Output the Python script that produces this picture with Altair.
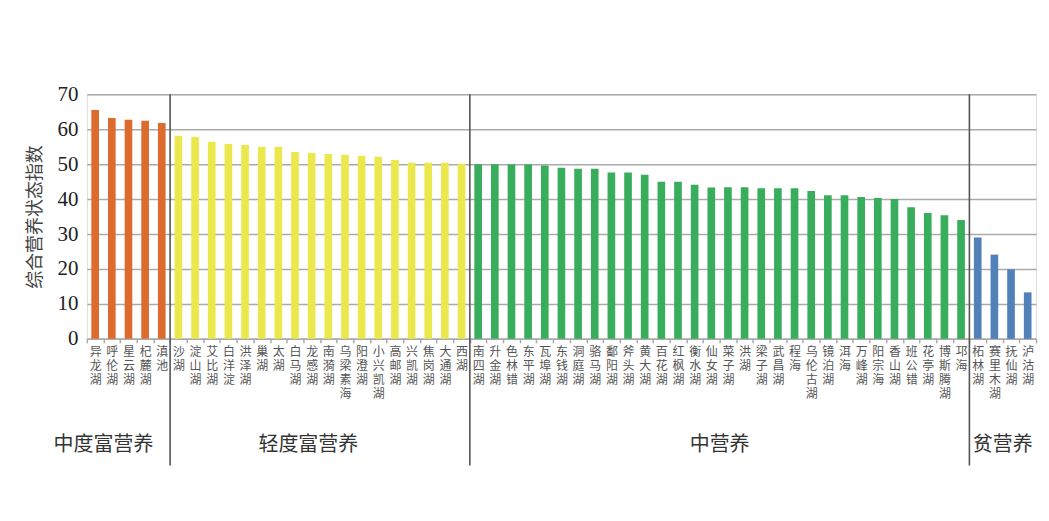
import altair as alt
import pandas as pd

# ---- data ----
level_names = ["中度富营养", "轻度富营养", "中营养", "贫营养"]
level_colors = ["#dd6b2d", "#ebe84e", "#38ad5c", "#5280b9"]

g1_lakes = ["异龙湖", "呼伦湖", "星云湖", "杞麓湖", "滇池"]
g1_values = [65.5, 63.2, 62.7, 62.4, 61.8]

g2_lakes = ["沙湖", "淀山湖", "艾比湖", "白洋淀", "洪泽湖", "巢湖", "太湖", "白马湖", "龙感湖",
            "南漪湖", "乌梁素海", "阳澄湖", "小兴凯湖", "高邮湖", "兴凯湖", "焦岗湖", "大通湖", "西湖"]
g2_values = [58.1, 57.8, 56.4, 55.8, 55.5, 55.0, 55.0, 53.5, 53.2,
             52.9, 52.7, 52.4, 52.1, 51.2, 50.4, 50.4, 50.4, 50.1]

g3_lakes = ["南四湖", "升金湖", "色林错", "东平湖", "瓦埠湖", "东钱湖", "洞庭湖", "骆马湖", "鄱阳湖",
            "斧头湖", "黄大湖", "百花湖", "红枫湖", "衡水湖", "仙女湖", "菜子湖", "洪湖", "梁子湖",
            "武昌湖", "程海", "乌伦古湖", "镜泊湖", "洱海", "万峰湖", "阳宗海", "香山湖", "班公错",
            "花亭湖", "博斯腾湖", "邛海"]
g3_values = [50.0, 50.0, 50.0, 50.0, 49.6, 49.0, 48.7, 48.7, 47.6,
             47.6, 47.0, 45.0, 45.0, 44.1, 43.3, 43.4, 43.4, 43.1,
             43.1, 43.1, 42.3, 41.1, 41.1, 40.6, 40.3, 40.0, 37.7,
             36.0, 35.4, 34.0]

g4_lakes = ["柘林湖", "赛里木湖", "抚仙湖", "泸沽湖"]
g4_values = [29.0, 24.1, 19.9, 13.3]

y_ticks = [0, 10, 20, 30, 40, 50, 60, 70]

lakes = g1_lakes + g2_lakes + g3_lakes + g4_lakes
values = g1_values + g2_values + g3_values + g4_values
levels = ([level_names[0]] * len(g1_lakes) + [level_names[1]] * len(g2_lakes)
          + [level_names[2]] * len(g3_lakes) + [level_names[3]] * len(g4_lakes))

df = pd.DataFrame({"lake": lakes, "value": values, "level": levels})

# separators at the first lake of groups 2-4
sep_df = pd.DataFrame({"lake": [g2_lakes[0], g3_lakes[0], g4_lakes[0]]})

# group labels anchored on a lake band
lab_a = pd.DataFrame({"lake": ["呼伦湖", "菜子湖", "抚仙湖"],
                      "label": ["中度富营养", "中营养", "贫营养"]})
lab_b = pd.DataFrame({"lake": ["龙感湖"], "label": ["轻度富营养"]})

CJK = "Noto Sans CJK SC"
SERIF = "Liberation Serif"

x_scale = alt.Scale(paddingInner=0, paddingOuter=0)
x_axis = alt.Axis(
    labelAngle=0,
    labelExpr="isValid(datum.value) ? split(datum.value, '') : ''",
    labelFont=CJK,
    labelFontSize=12,
    labelLineHeight=14,
    labelColor="#555555",
    labelBaseline="top",
    labelPadding=4,
    labelOverlap=False,
    labelBound=False,
    tickBand="extent",
    tickSize=4,
    tickColor="#aaaaaa",
    tickWidth=1.5,
    domainColor="#aaaaaa",
    domainWidth=1.5,
    grid=False,
    title=None,
)


def xenc(band_pos=None):
    kw = dict(sort=lakes, scale=x_scale, axis=x_axis, title=None)
    if band_pos is not None:
        kw["bandPosition"] = band_pos
    return alt.X("lake:N", **kw)


y_enc = alt.Y(
    "value:Q",
    scale=alt.Scale(domain=[0, 70], nice=False),
    axis=alt.Axis(
        values=y_ticks,
        grid=True,
        gridColor="#aaaaaa",
        gridWidth=1.5,
        domain=False,
        ticks=False,
        labelFont=SERIF,
        labelFontSize=21,
        labelColor="#222222",
        labelPadding=9,
        title="综合营养状态指数",
        titleFont=CJK,
        titleFontSize=18,
        titleFontWeight="normal",
        titleColor="#444444",
        titlePadding=12,
    ),
)

bars = alt.Chart(df).mark_bar(width=alt.RelativeBandSize(0.46)).encode(
    x=xenc(),
    y=y_enc,
    color=alt.Color("level:N", scale=alt.Scale(domain=level_names, range=level_colors), legend=None),
)

seps = alt.Chart(sep_df).mark_rule(color="#555555", strokeWidth=1.6).encode(
    x=xenc(0),
    y=alt.value(0),
    y2=alt.value(372),
)

labels_a = alt.Chart(lab_a).mark_text(
    font=CJK, fontSize=20, color="#333333", align="center", baseline="middle"
).encode(x=xenc(0), y=alt.value(351), text="label:N")

labels_b = alt.Chart(lab_b).mark_text(
    font=CJK, fontSize=20, color="#333333", align="center", baseline="middle"
).encode(x=xenc(0.3), y=alt.value(351), text="label:N")

chart = alt.layer(bars, seps, labels_a, labels_b).properties(
    width=951,
    height=245,
    autosize=alt.AutoSizeParams(type="none"),
    padding={"left": 79, "top": 86, "right": 5, "bottom": 150},
).configure_view(
    stroke="#aaaaaa", strokeWidth=1.5
).configure(background="white")

chart.save("out.html", embed_options={"renderer": "svg", "actions": False})
